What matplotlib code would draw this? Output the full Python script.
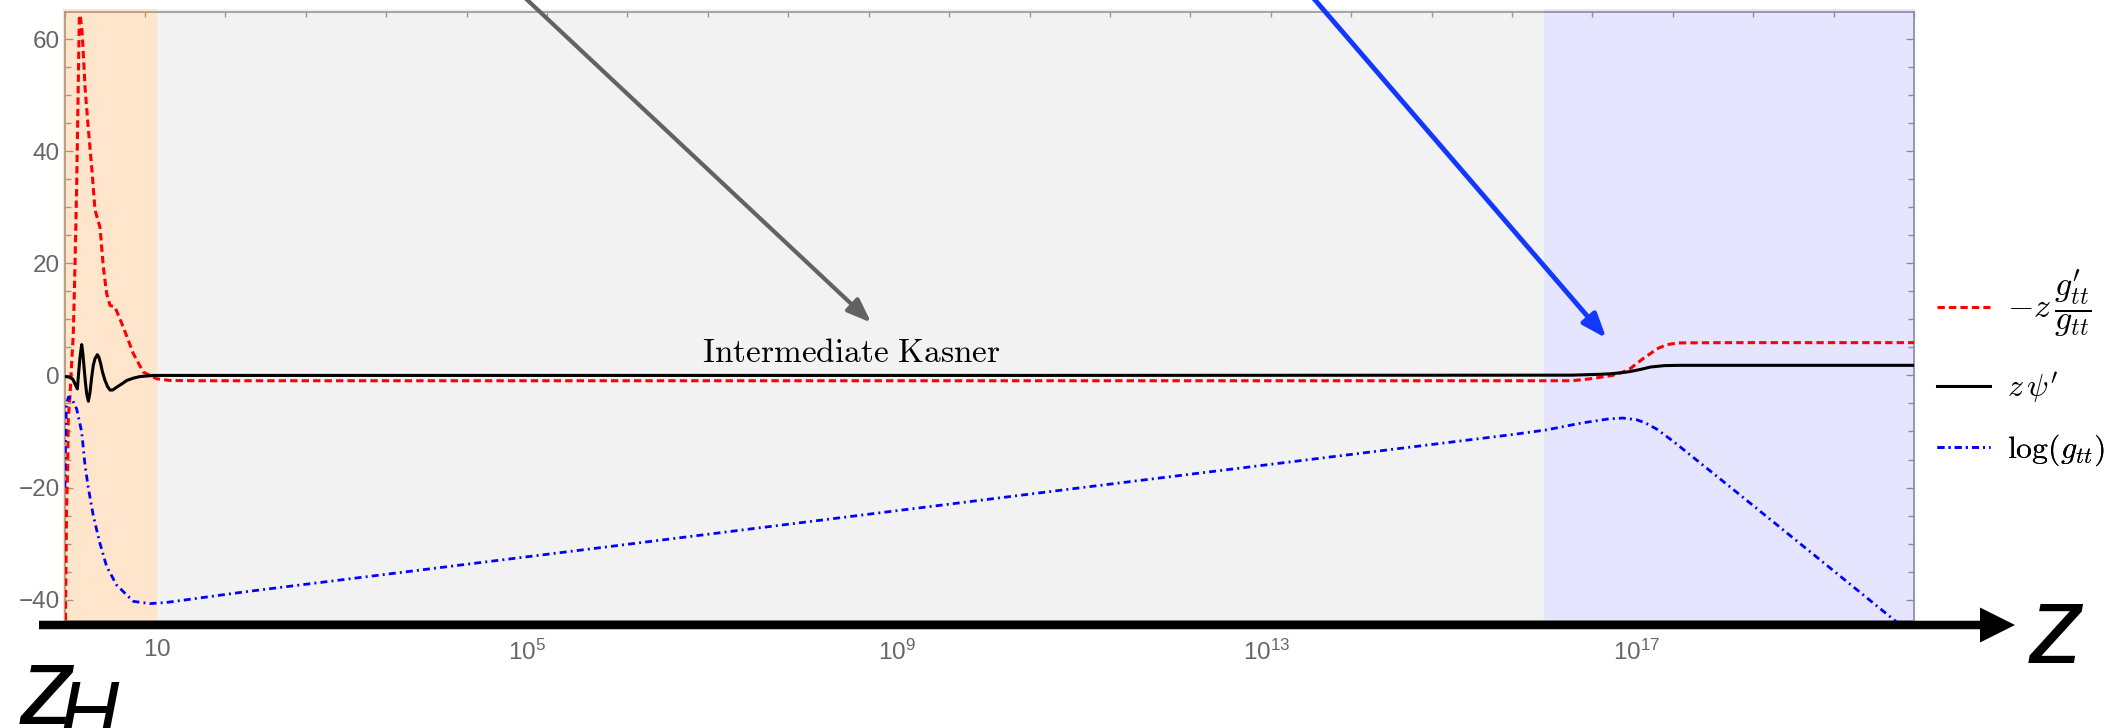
import numpy as np
import matplotlib
matplotlib.use("Agg")
import matplotlib.pyplot as plt
from matplotlib.patches import FancyArrow
from matplotlib.ticker import FixedLocator, MultipleLocator, NullFormatter
from matplotlib.transforms import IdentityTransform

# ---------------- data (log10 z, value) ----------------
red_logz = [0.004, 0.010, 0.021, 0.034, 0.040, 0.058, 0.077, 0.094, 0.112, 0.131,
            0.148, 0.159, 0.166, 0.185, 0.195, 0.221, 0.250, 0.293, 0.329, 0.383,
            0.419, 0.455, 0.491, 0.545, 0.635, 0.743, 0.851, 0.996, 1.14, 1.5,
            5.0, 10.0, 15.0, 16.0, 16.3, 16.5, 16.62, 16.74, 16.85, 16.93,
            17.0, 17.07, 17.15, 17.22, 17.33, 17.45, 18.0, 20.0]
red_val = [-60, -42, -24, -15.8, -7.6, -3.8, 2.4, 7.4, 19.3, 34.2,
           52.0, 63.9, 64.3, 62.1, 59.7, 51.4, 45.3, 37.1, 29.5, 26.4,
           19.3, 14.6, 12.5, 12.2, 8.6, 3.9, 0.6, -0.6, -0.9, -0.95,
           -0.95, -0.95, -0.95, -0.95, -0.95, -0.6, -0.3, 0.0, 0.6, 1.2,
           2.1, 3.0, 3.9, 4.75, 5.5, 5.8, 5.85, 5.85]

blk_logz = [0.0, 0.058, 0.09, 0.112, 0.138, 0.152, 0.167, 0.185, 0.197, 0.21,
            0.225, 0.239, 0.257, 0.275, 0.293, 0.31, 0.329, 0.354, 0.37, 0.39,
            0.41, 0.437, 0.465, 0.491, 0.52, 0.563, 0.62, 0.672, 0.74, 0.816,
            0.96, 2.0, 10.0, 16.3, 16.6, 16.72, 16.85, 16.93, 17.05, 17.15,
            17.3, 17.45, 20.0]
blk_val = [-0.2, -0.3, -0.7, -1.5, -2.4, 0.5, 3.3, 5.5, 4.0, 1.5,
           -1.2, -3.3, -4.6, -3.0, -0.3, 1.8, 3.0, 3.7, 3.3, 2.1,
           0.6, -0.9, -2.0, -2.6, -2.6, -2.1, -1.5, -0.9, -0.5, -0.2,
           0.0, 0.0, 0.0, 0.05, 0.2, 0.3, 0.5, 0.7, 1.1, 1.5,
           1.75, 1.8, 1.8]

blu_logz = [0.003, 0.010, 0.020, 0.040, 0.077, 0.131, 0.185, 0.220, 0.256, 0.310,
            0.383, 0.455, 0.563, 0.743, 0.924, 1.10, 1.95, 6.0, 11.2, 15.68,
            16.03, 16.4, 16.7, 16.85, 17.0, 17.1, 17.22, 17.4, 18.05, 19.0, 20.0]
blu_val = [-20, -11.8, -5.2, -3.9, -4.1, -6.0, -10.1, -15.9, -20.0, -25.0,
           -30.0, -34.1, -37.4, -40.3, -40.7, -40.5, -38.6, -30.3, -19.6, -10.5,
           -9.7, -8.5, -7.75, -7.6, -7.9, -8.5, -9.6, -11.8, -20.4, -33.1, -46.5]

region_edges = [1.0, 10.0, 1e16, 1e20]
region_colors = [(1.0, 0.5, 0.0, 0.2), (0.5, 0.5, 0.5, 0.1), (0.0, 0.0, 1.0, 0.1)]

xtick_vals = [10, 1e5, 1e9, 1e13, 1e17]
xtick_labels = [r"$10$", r"$10^{5}$", r"$10^{9}$", r"$10^{13}$", r"$10^{17}$"]
ytick_vals = [-40, -20, 0, 20, 40, 60]

legend_labels = [r"$-z\,\dfrac{g^{\prime}_{tt}}{g_{tt}}$", r"$z\,\psi^{\prime}$", r"$\log(g_{tt})$"]
kasner_text = r"$\mathrm{Intermediate\ Kasner}$"
kasner_pos = (8.514, 2.46)        # (log10 z, value)

gray_arrow = [(4.31, 77.7), (8.723, 9.42)]     # tail, tip (log10 z, value)
blue_arrow = [(12.963, 77.7), (16.673, 6.64)]

# ---------------- style ----------------
plt.rcParams['font.family'] = ['Liberation Sans', 'DejaVu Sans']
plt.rcParams['mathtext.fontset'] = 'custom'
plt.rcParams['mathtext.rm'] = 'Liberation Sans'
plt.rcParams['mathtext.it'] = 'Liberation Sans:italic'
plt.rcParams['mathtext.bf'] = 'Liberation Sans:bold'

W, H = 2125, 728
fig = plt.figure(figsize=(W / 100, H / 100), dpi=100)
fig.patch.set_facecolor('white')
x0, x1, ytop, ybot = 64.6, 1914.0, 11.6, 620.7
ax = fig.add_axes([x0 / W, (H - ybot) / H, (x1 - x0) / W, (ybot - ytop) / H])
ax.set_facecolor('white')
ax.set_xscale('log')
ax.set_xlim(1, 1e20)
ax.set_ylim(-43.75, 64.9)

spine_col = '#9a9a9a'
for s in ax.spines.values():
    s.set_color(spine_col)
    s.set_linewidth(1.2)

# shaded regions (overlay, tinting the frame like the original)
for i in range(3):
    a, b = region_edges[i], region_edges[i + 1]
    if i == 0:
        a = a * 10 ** -0.012
    if i == 2:
        b = b * 10 ** 0.012
    ax.axvspan(a, b, ymin=-0.004, ymax=1.004, color=region_colors[i], lw=0,
               zorder=3, clip_on=False)

# curves
l1, = ax.plot(10 ** np.array(red_logz), red_val, color='#ff0000', lw=2.2,
              dashes=(2.4, 1.35), zorder=4)
l2, = ax.plot(10 ** np.array(blk_logz), blk_val, color='black', lw=2.2, zorder=4)
l3, = ax.plot(10 ** np.array(blu_logz), blu_val, color='#0000ff', lw=2.0,
              dashes=(2.5, 1.5, 0.7, 1.5), zorder=4)

# ticks
ax.xaxis.set_major_locator(FixedLocator(xtick_vals))
ax.set_xticklabels(xtick_labels)
top_ticks = [10 ** (20.0 * k / 23.0) for k in range(24)]
ax.xaxis.set_minor_locator(FixedLocator(top_ticks))
ax.xaxis.set_minor_formatter(NullFormatter())
ax.tick_params(axis='x', which='major', bottom=True, top=False, length=0,
               pad=13.5, labelsize=17.5, labelcolor='#666666')
ax.tick_params(axis='x', which='minor', bottom=False, top=True, direction='in',
               length=3.5, width=1.0, color=spine_col, labelbottom=False)
ax.yaxis.set_major_locator(FixedLocator(ytick_vals))
ax.yaxis.set_minor_locator(MultipleLocator(5))
ax.tick_params(axis='y', which='both', left=True, right=True, direction='in',
               color=spine_col, width=1.0, labelsize=17.5, labelcolor='#666666', pad=3.3)
ax.tick_params(axis='y', which='major', length=6)
ax.tick_params(axis='y', which='minor', length=4)

# text
ax.text(10 ** kasner_pos[0], kasner_pos[1], kasner_text, fontsize=24,
        ha='center', va='baseline', math_fontfamily='cm', zorder=5)

# arrows
for (tail, tip), col, lw in [(gray_arrow, '#626262', 3.0), (blue_arrow, '#1238ff', 3.5)]:
    ax.annotate('', xy=(10 ** tip[0], tip[1]), xytext=(10 ** tail[0], tail[1]),
                arrowprops=dict(arrowstyle='-|>,head_length=1.45,head_width=0.55',
                                color=col, lw=lw, shrinkA=0, shrinkB=0,
                                mutation_scale=10),
                annotation_clip=False, zorder=6)

# legend: one entry per row, each placed so its handle sits where the reference has it
row_targets = [306.7, 385.7, 447.0]     # handle centre rows (pixels from top)
hx_target = 1937.0
legends = []
for line, lab, ty in zip([l1, l2, l3], legend_labels, row_targets):
    lg = ax.legend([line], [lab], loc='center left',
                   bbox_to_anchor=(hx_target / W, (H - ty) / H),
                   bbox_transform=fig.transFigure, frameon=False, fontsize=23,
                   handlelength=1.65, handletextpad=0.55, borderpad=0, borderaxespad=0)
    lg.get_texts()[0].set_math_fontfamily('cm')
    if lab is legend_labels[0]:
        lg.get_texts()[0].set_fontsize(24.5)
    ax.add_artist(lg)
    legends.append((lg, ty))

fig.canvas.draw()
r = fig.canvas.get_renderer()
for lg, ty in legends:
    h = lg.legend_handles[0]
    pts = h.get_transform().transform(h.get_xydata())
    hy = H - pts[:, 1].mean()
    hx = pts[:, 0].min()
    dy = ty - hy
    dx = hx_target - hx
    lg.set_bbox_to_anchor(((hx_target + dx) / W, (H - ty - dy) / H), transform=fig.transFigure)

# big axis arrow
bar = FancyArrow(39, H - 625, 2015 - 39, 0, width=8.5, head_width=35, head_length=35,
                 length_includes_head=True, color='black', lw=0,
                 transform=IdentityTransform())
fig.add_artist(bar)

fig.text(20 / W, (H - 724) / H, 'z', fontsize=80, style='italic', va='baseline', ha='left')
fig.text(58 / W, (H - 739.7) / H, 'H', fontsize=60, style='italic', va='baseline', ha='left')
fig.text(2029 / W, (H - 663) / H, 'z', fontsize=80, style='italic', va='baseline', ha='left')

fig.savefig('out.png', dpi=100)
